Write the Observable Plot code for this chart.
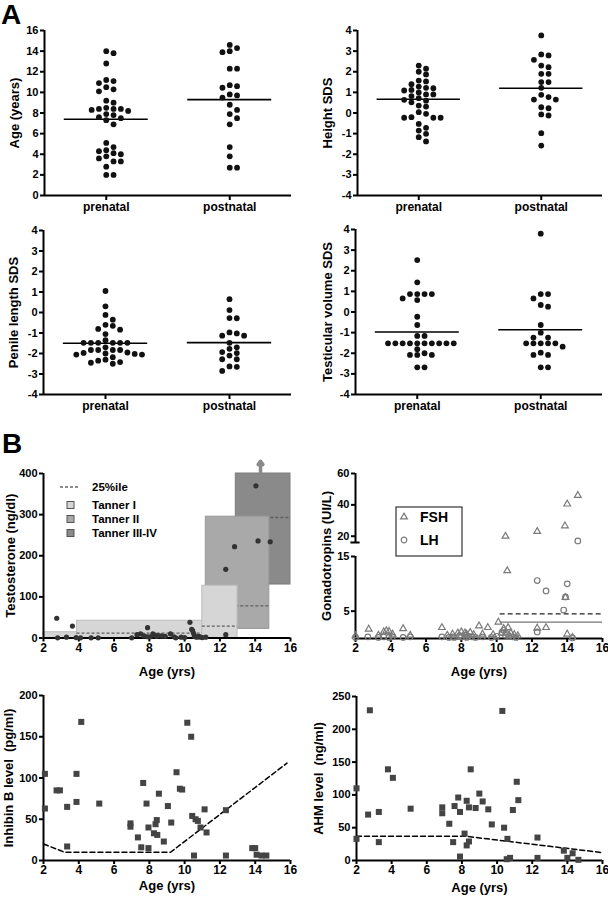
<!DOCTYPE html>
<html>
<head>
<meta charset="utf-8">
<script src="https://cdn.jsdelivr.net/npm/d3@7"></script>
<script src="https://cdn.jsdelivr.net/npm/@observablehq/plot@0.6"></script>
<style>
  body { margin: 0; background: #fff; }
  #root { position: relative; width: 608px; height: 900px; overflow: hidden; background: #fff;
          font-family: "Liberation Sans", Arial, Helvetica, sans-serif; font-weight: bold; }
  svg g[aria-label="x-axis tick label"] { font-size: 12px; }
  svg g[aria-label$="-axis tick"], svg g[aria-label$="-axis tick"] path { stroke-width: 2px; }
</style>
</head>
<body>
<div id="root"></div>
<script>
// ---------------- DATA ----------------
const groupNames = ["prenatal", "postnatal"];

const agePrenatal = [14.0, 13.8, 12.8, 11.2, 11.1, 10.9, 10.5, 10.3, 10.1, 9.2, 9.0, 8.5, 8.4, 8.4, 8.4, 8.3, 8.2, 7.9, 7.8, 7.6, 7.5, 7.3, 6.9, 5.1, 4.7, 4.4, 4.3, 4.1, 4.0, 3.8, 3.6, 3.3, 3.3, 2.8, 2.0, 2.0];
const agePostnatal = [14.6, 14.3, 14.0, 13.9, 12.3, 12.3, 10.7, 10.6, 10.45, 9.8, 9.7, 9.5, 8.8, 8.3, 7.9, 7.5, 6.9, 4.7, 3.8, 2.7, 2.7];
const ageMedians = [7.4, 9.3];

const heightPrenatal = [2.3, 2.15, 2.0, 1.87, 1.57, 1.53, 1.4, 1.28, 1.22, 1.2, 1.12, 1.09, 1.0, 0.9, 0.9, 0.82, 0.72, 0.64, 0.6, 0.52, 0.36, 0.31, 0.04, -0.04, -0.2, -0.23, -0.23, -0.23, -0.53, -0.72, -0.85, -1.01, -1.17, -1.38];
const heightPostnatal = [3.76, 2.84, 2.79, 2.58, 2.3, 2.22, 1.9, 1.9, 1.5, 1.5, 1.22, 0.88, 0.77, 0.65, 0.65, 0.28, 0.23, -0.07, -0.12, -0.98, -1.58];
const heightMedians = [0.67, 1.2];

const penilePrenatal = [1.05, 0.3, -0.12, -0.35, -0.6, -0.65, -0.8, -0.84, -1.05, -1.35, -1.48, -1.48, -1.48, -1.48, -1.48, -1.48, -1.7, -1.83, -1.83, -1.83, -1.83, -1.95, -1.97, -2.0, -2.02, -2.05, -2.05, -2.18, -2.3, -2.35, -2.42, -2.45, -2.5];
const penilePostnatal = [0.65, 0.12, -0.27, -0.28, -0.97, -1.02, -1.13, -1.13, -1.48, -1.7, -1.77, -1.93, -1.98, -2.1, -2.28, -2.28, -2.63, -2.65, -2.85];
const penileMedians = [-1.5, -1.47];

const testisPrenatal = [2.52, 1.44, 0.87, 0.87, 0.87, 0.87, 0.66, 0.58, -0.23, -0.63, -1.16, -1.16, -1.52, -1.52, -1.52, -1.52, -1.52, -1.52, -1.52, -1.52, -1.52, -1.52, -1.8, -2.0, -2.08, -2.08, -2.08, -2.68, -2.68];
const testisPostnatal = [3.8, 0.87, 0.87, 0.66, 0.34, 0.26, -0.63, -1.0, -1.24, -1.24, -1.52, -1.52, -1.52, -1.52, -1.52, -1.68, -1.97, -2.08, -2.08, -2.68, -2.68];
const testisMedians = [-0.97, -0.86];

const ageTicks = [2, 4, 6, 8, 10, 12, 14, 16];

// testosterone (age, ng/dl)
const testoPoints = [[2.75,48],[2.8,0.5],[3.3,2],[3.64,29],[3.85,1],[4.1,0.5],[4.7,0.5],[5.1,0.5],[7.0,0.5],[7.3,8],[7.5,10],[7.7,5],[7.9,25],[7.9,3],[8.05,3],[8.2,10],[8.3,7],[8.4,4],[8.5,6],[8.7,5],[8.9,4],[9.2,10],[9.4,3],[9.5,0.5],[9.8,2],[10.0,1],[10.3,38],[10.4,21],[10.45,18],[10.5,12],[10.55,5],[10.6,3],[10.7,2],[10.8,4],[10.9,2],[11.0,1],[11.2,2],[12.33,8],[12.33,167],[12.83,222],[14.16,236],[14.85,234],[14.04,370]];
const tannerStages = ["Tanner I", "Tanner II", "Tanner III-IV"];
const tannerFill = ["#d6d6d6", "#a9a9a9", "#8a8a8a"];
const tannerStroke = ["#bdbdbd", "#9a9a9a", "#7c7c7c"];
const tannerRanges = [
  {stage: 2, x1: 12.9, x2: 16.0, y1: 130, y2: 400, p25: 293},
  {stage: 1, x1: 11.2, x2: 14.8, y1: 22, y2: 295, p25: 78},
  {stage: 0, x1: 2.0, x2: 3.9, y1: 0, y2: 14, p25: null},
  {stage: 0, x1: 3.9, x2: 11.3, y1: 0, y2: 42, p25: 12},
  {stage: 0, x1: 11.0, x2: 13.0, y1: 0, y2: 127, p25: 29}
];
const testoArrow = [{age: 14.3, from: 400, to: 430}];

// gonadotropins (age, UI/L)
const fshPoints = [[2.0,0.5],[2.75,1.7],[3.3,0.6],[3.6,1.2],[3.75,1.4],[3.9,1.3],[4.1,0.8],[4.7,1.8],[5.1,0.6],[6.9,2.0],[7.2,0.6],[7.5,0.8],[7.8,1.0],[8.0,1.2],[8.2,1.0],[8.3,0.8],[8.5,1.1],[8.7,0.7],[9.0,2.3],[9.2,0.8],[9.5,2.0],[9.8,0.7],[10.1,3.0],[10.3,1.0],[10.4,1.8],[10.5,20],[10.6,12.4],[10.65,2.0],[10.8,1.0],[11.0,0.7],[11.2,0.5],[12.3,23],[12.3,1.9],[12.8,2.0],[13.87,26.6],[13.9,7.5],[14.0,40.5],[14.0,0.8],[14.3,0.2],[14.6,46]];
const lhPoints = [[2.0,0.2],[2.7,0.3],[3.3,0.2],[3.6,0.3],[3.9,0.2],[4.1,0.3],[4.7,0.2],[5.1,0.3],[6.9,0.3],[7.3,0.2],[7.5,0.3],[7.6,0.2],[7.9,0.5],[8.0,0.3],[8.2,0.6],[8.3,0.2],[8.4,0.4],[8.6,0.3],[8.8,0.2],[9.2,0.3],[9.7,0.2],[10.0,0.4],[10.3,1.1],[10.4,1.5],[10.5,0.6],[10.6,0.9],[10.7,0.4],[10.9,0.3],[11.1,0.2],[12.3,10.6],[12.3,1.2],[12.8,8.7],[13.8,5.2],[13.9,7.6],[14.0,10.0],[14.3,0.1],[14.6,17]];
const gonadLimits = [{x1: 10.2, x2: 16, y: 4.5, dashed: true}, {x1: 10.2, x2: 16, y: 3.0, dashed: false}];
const gonadTicks = [5, 15, 20, 40, 60];
const gonadLegend = ["FSH", "LH"];

// inhibin B (age, pg/ml)
const inhibinPoints = [[2.08,105],[2.08,63],[2.74,85],[2.93,85],[3.34,65],[3.34,17],[3.87,105],[3.87,71],[4.14,168],[5.16,69],[6.93,45],[6.93,41],[7.35,28],[7.54,16],[7.65,94],[7.84,69],[7.95,40],[7.95,15],[8.26,33],[8.35,44],[8.42,49],[8.45,31],[8.54,81],[8.82,23],[9.05,66],[9.24,46],[9.54,107],[9.73,87],[9.86,86],[10.15,167],[10.37,150],[10.43,54],[10.53,6],[10.62,50],[10.75,48],[10.9,40],[11.13,62],[11.24,34],[12.34,61],[12.34,6],[13.83,15],[14.0,15],[14.08,7],[14.36,6],[14.63,6]];
const inhibinCutoff = [[2.0,20],[3.2,10],[9.2,10],[15.8,118]];

// AMH (age, ng/ml)
const ahmPoints = [[2.0,110],[2.0,33],[2.66,70],[2.76,229],[3.27,74],[3.27,28],[3.79,139],[4.07,126],[5.08,79],[6.88,81],[6.88,72],[7.28,56],[7.5,28],[7.58,83],[7.79,96],[7.89,74],[7.89,6],[8.15,41],[8.27,91],[8.27,23],[8.4,29],[8.4,81],[8.5,139],[8.78,80],[8.99,102],[9.18,90],[9.5,78],[9.7,55],[10.3,228],[10.4,50],[10.55,2],[10.59,33],[10.74,4],[10.9,77],[11.12,120],[11.21,92],[12.3,35],[12.3,4],[13.8,15],[14.0,4],[14.3,11],[14.63,1]];
const ahmCutoff = [[2.0,37],[8.2,37],[16.0,12]];

// ---------------- RENDERING ----------------
const FONT = '"Liberation Sans", Arial, Helvetica, sans-serif';
const root = document.getElementById("root");
const baseStyle = {fontFamily: FONT, fontSize: "11px", fontWeight: "bold", background: "transparent", overflow: "visible", color: "#000"};
function put(node, left, top) {
  node.style.position = "absolute";
  node.style.left = left + "px";
  node.style.top = top + "px";
  root.appendChild(node);
}
function yLabelMark(label, dx) {
  return Plot.text([label], {text: d => d, frameAnchor: "left", dx, rotate: -90, fontSize: 13, textAnchor: "middle", lineAnchor: "middle"});
}
function xLabelMark(label, dy) {
  return Plot.text([label], {text: d => d, frameAnchor: "bottom", dy, fontSize: 13, textAnchor: "middle", lineAnchor: "middle"});
}

// GraphPad-like column scatter: dots placed on a horizontal grid, avoiding overlaps
function gridDodge(values, center, pxY, pxX) {
  const SPACING = 7.3, DIAM = 5.6;
  const placed = [];
  [...values].sort((a, b) => b - a).forEach(v => {
    for (let k = 0; k < 80; k++) {
      const slot = k === 0 ? 0 : (k % 2 ? (k + 1) / 2 : -k / 2);
      if (!placed.some(p => p.slot === slot && Math.abs(p.v - v) * pxY < DIAM)) { placed.push({v, slot}); return; }
    }
  });
  return placed.map(p => ({x: center + p.slot * SPACING / pxX, y: p.v}));
}

const xCat = [0.5, 2.5];
function dotPanel(c) {
  const pxX = (c.width - c.mL - c.mR) / (xCat[1] - xCat[0]);
  const pxY = (c.height - c.mT - c.mB) / (c.yDomain[1] - c.yDomain[0]);
  const dots = [...gridDodge(c.pre, 1, pxY, pxX), ...gridDodge(c.post, 2, pxY, pxX)];
  const med = c.medians.map((m, i) => ({c: i + 1, m}));
  const svg = Plot.plot({
    width: c.width, height: c.height,
    marginLeft: c.mL, marginRight: c.mR, marginTop: c.mT, marginBottom: c.mB,
    style: baseStyle,
    x: {domain: xCat, ticks: [1, 2], tickFormat: d => groupNames[d - 1], tickSize: 5, tickPadding: 2, label: null},
    y: {domain: c.yDomain, ticks: c.yTicks, tickSize: 4, tickPadding: 2, tickFormat: d => String(d), label: null},
    marks: [
      Plot.ruleX([xCat[0]], {strokeWidth: 2}),
      Plot.ruleY([c.yDomain[0]], {strokeWidth: 2}),
      Plot.ruleY(med, {x1: d => d.c - 0.34, x2: d => d.c + 0.34, y: "m", strokeWidth: 1.6}),
      Plot.dot(dots, {x: "x", y: "y", r: 2.9, fill: "#111", stroke: "none"}),
      yLabelMark(c.yLabel, c.labelX - c.mL)
    ]
  });
  put(svg, c.left, c.top);
}

const sdsTicks = [-4, -3, -2, -1, 0, 1, 2, 3, 4];
dotPanel({pre: agePrenatal, post: agePostnatal, medians: ageMedians, yDomain: [0, 16], yTicks: [0, 2, 4, 6, 8, 10, 12, 14, 16],
  yLabel: "Age (years)", left: 0, top: 0, width: 300, height: 225, mL: 44, mR: 9, mT: 30, mB: 30, labelX: 14});
dotPanel({pre: heightPrenatal, post: heightPostnatal, medians: heightMedians, yDomain: [-4, 4], yTicks: sdsTicks,
  yLabel: "Height SDS", left: 300, top: 0, width: 308, height: 225, mL: 57, mR: 6, mT: 30, mB: 30, labelX: 27});
dotPanel({pre: penilePrenatal, post: penilePostnatal, medians: penileMedians, yDomain: [-4, 4], yTicks: sdsTicks,
  yLabel: "Penile length SDS", left: 0, top: 200, width: 300, height: 225, mL: 43, mR: 9, mT: 30, mB: 31, labelX: 13});
dotPanel({pre: testisPrenatal, post: testisPostnatal, medians: testisMedians, yDomain: [-4, 4], yTicks: sdsTicks,
  yLabel: "Testicular volume SDS", left: 300, top: 200, width: 308, height: 225, mL: 55, mR: 6, mT: 29, mB: 31, labelX: 27});

const ageDomain = [2, 16];
const xAge = {domain: ageDomain, ticks: ageTicks, tickSize: 4, tickPadding: 1, label: null};

// ---- B1: testosterone ----
{
  const tannerMarks = tannerRanges.flatMap(r => [
    Plot.rect([r], {x1: "x1", x2: "x2", y1: "y1", y2: "y2", fill: tannerFill[r.stage], stroke: tannerStroke[r.stage], strokeWidth: 1}),
    Plot.ruleY(r.p25 == null ? [] : [r], {x1: "x1", x2: "x2", y: "p25", stroke: "#5f5f5f", strokeWidth: 1.3, strokeDasharray: "3,2"})
  ]);
  const svg = Plot.plot({
    width: 300, height: 245, marginLeft: 43, marginRight: 10, marginTop: 33, marginBottom: 47.5,
    style: baseStyle,
    x: xAge,
    y: {domain: [0, 400], ticks: [0, 100, 200, 300, 400], tickSize: 4, tickPadding: 2, label: null},
    marks: [
      ...tannerMarks,
      Plot.arrow(testoArrow, {x1: "age", x2: "age", y1: "from", y2: "to", stroke: "#8a8a8a", strokeWidth: 3.5, headLength: 7, headAngle: 70}),
      Plot.ruleX([ageDomain[0]], {strokeWidth: 2}),
      Plot.ruleY([0], {strokeWidth: 2}),
      Plot.dot(testoPoints, {x: d => d[0], y: d => d[1], r: 2.6, fill: "#333", stroke: "none"}),
      yLabelMark("Testosterone (ng/dl)", 10 - 43),
      xLabelMark("Age (yrs)", 34)
    ]
  });
  put(svg, 0, 440);
}

// ---- B2: gonadotropins (broken axis) ----
{
  const svg = Plot.plot({
    width: 308, height: 245, marginLeft: 55, marginRight: 6, marginTop: 33, marginBottom: 47,
    style: baseStyle,
    x: xAge,
    y: {type: "linear", domain: [0, 15, 16, 60], range: [198, 116, 102, 33], ticks: gonadTicks, tickSize: 4, tickPadding: 2, label: null},
    marks: [
      Plot.ruleX([ageDomain[0]], {y1: 0, y2: 15, strokeWidth: 2}),
      Plot.ruleX([ageDomain[0]], {y1: 16, y2: 60, strokeWidth: 2}),
      Plot.ruleY([16], {x1: ageDomain[0] - 0.26, x2: ageDomain[0] + 0.26, strokeWidth: 2}),
      Plot.ruleY([0], {strokeWidth: 2}),
      Plot.ruleY(gonadLimits.filter(d => d.dashed), {x1: "x1", x2: "x2", y: "y", stroke: "#222", strokeWidth: 1.4, strokeDasharray: "5,3"}),
      Plot.ruleY(gonadLimits.filter(d => !d.dashed), {x1: "x1", x2: "x2", y: "y", stroke: "#777", strokeWidth: 1.4}),
      Plot.dot(lhPoints, {x: d => d[0], y: d => d[1], r: 2.8, symbol: "circle", fill: "none", stroke: "#7a7a7a", strokeWidth: 1.2}),
      Plot.dot(fshPoints, {x: d => d[0], y: d => d[1], r: 2.5, symbol: "triangle", fill: "none", stroke: "#7a7a7a", strokeWidth: 1.2}),
      yLabelMark("Gonadotropins (UI/L)", 326 - 355),
      xLabelMark("Age (yrs)", 33)
    ]
  });
  put(svg, 300, 440);
}

// ---- B3: inhibin B ----
{
  const svg = Plot.plot({
    width: 300, height: 220, marginLeft: 43, marginRight: 10, marginTop: 15, marginBottom: 40,
    style: baseStyle,
    x: xAge,
    y: {domain: [0, 200], ticks: [0, 50, 100, 150, 200], tickSize: 4, tickPadding: 2, label: null},
    marks: [
      Plot.ruleX([ageDomain[0]], {strokeWidth: 2}),
      Plot.ruleY([0], {strokeWidth: 2}),
      Plot.line(inhibinCutoff, {x: d => d[0], y: d => d[1], stroke: "#000", strokeWidth: 1.5, strokeDasharray: "5,3"}),
      Plot.dot(inhibinPoints, {x: d => d[0], y: d => d[1], r: 3.4, symbol: "square", fill: "#444", stroke: "none"}),
      yLabelMark("Inhibin B level \u00a0(pg/ml)", 8 - 43),
      xLabelMark("Age (yrs)", 25)
    ]
  });
  put(svg, 0, 680);
}

// ---- B4: AMH ----
{
  const svg = Plot.plot({
    width: 308, height: 220, marginLeft: 56, marginRight: 6, marginTop: 16, marginBottom: 40,
    style: baseStyle,
    x: xAge,
    y: {domain: [0, 250], ticks: [0, 50, 100, 150, 200, 250], tickSize: 4, tickPadding: 2, label: null},
    marks: [
      Plot.ruleX([ageDomain[0]], {strokeWidth: 2}),
      Plot.ruleY([0], {strokeWidth: 2}),
      Plot.line(ahmCutoff, {x: d => d[0], y: d => d[1], stroke: "#000", strokeWidth: 1.5, strokeDasharray: "5,3"}),
      Plot.dot(ahmPoints, {x: d => d[0], y: d => d[1], r: 3.4, symbol: "square", fill: "#444", stroke: "none"}),
      yLabelMark("AHM level \u00a0(ng/ml)", 318 - 356),
      xLabelMark("Age (yrs)", 27)
    ]
  });
  put(svg, 300, 680);
}

// ---- overlay: panel letters and legends ----
{
  const ov = d3.create("svg").attr("width", 608).attr("height", 900)
    .attr("font-family", FONT).attr("font-weight", "bold").style("pointer-events", "none");
  ov.append("text").attr("x", 1).attr("y", 24).attr("font-size", 28).text("A");
  ov.append("text").attr("x", 2).attr("y", 453).attr("font-size", 28).text("B");

  // testosterone legend
  const lg = ov.append("g");
  lg.append("line").attr("x1", 60).attr("x2", 78).attr("y1", 487).attr("y2", 487)
    .attr("stroke", "#666").attr("stroke-width", 1.5).attr("stroke-dasharray", "3,2");
  lg.append("text").attr("x", 92).attr("y", 491).attr("font-size", 11.5).text("25%ile");
  tannerStages.forEach((s, i) => {
    const cy = 505 + i * 14;
    lg.append("rect").attr("x", 67).attr("y", cy - 3.5).attr("width", 7).attr("height", 7)
      .attr("fill", tannerFill[i]).attr("stroke", "#555").attr("stroke-width", 1);
    lg.append("text").attr("x", 92).attr("y", cy + 4).attr("font-size", 11.5).text(s);
  });

  // gonadotropin legend
  const gl = ov.append("g");
  gl.append("rect").attr("x", 396).attr("y", 507).attr("width", 66).attr("height", 49)
    .attr("fill", "#fff").attr("stroke", "#333").attr("stroke-width", 1.2);
  const syms = [d3.symbolTriangle, d3.symbolCircle];
  const rs = [2.5, 2.8];
  gonadLegend.forEach((s, i) => {
    const cy = 517 + i * 23;
    gl.append("path").attr("d", d3.symbol(syms[i], rs[i] * rs[i] * Math.PI)())
      .attr("transform", `translate(404,${cy})`).attr("fill", "none").attr("stroke", "#7a7a7a").attr("stroke-width", 1.2);
    gl.append("text").attr("x", 420).attr("y", cy + 5).attr("font-size", 14).text(s);
  });
  put(ov.node(), 0, 0);
}
</script>
</body>
</html>
